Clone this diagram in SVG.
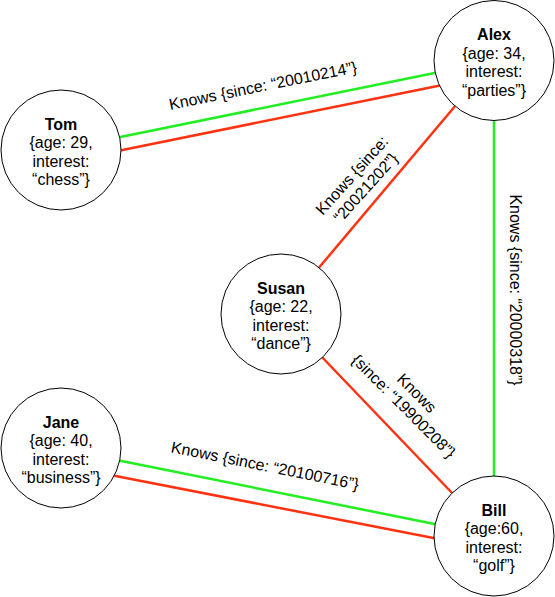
<svg xmlns="http://www.w3.org/2000/svg" width="555" height="597" viewBox="0 0 555 597">
<style>
.bg{fill:#fff}
.node circle{fill:#fff;stroke:#000;stroke-width:1}
.node text{font-family:"Liberation Sans",Arial,Helvetica,sans-serif;font-size:16px;text-anchor:middle;fill:#000}
.node .name{font-weight:bold}
.g{stroke:#22ee22;stroke-width:2.5;fill:none}
.r{stroke:#ff3311;stroke-width:2.5;fill:none}
.lbl{font-family:"Liberation Sans",Arial,Helvetica,sans-serif;font-size:16px;text-anchor:middle;fill:#000}
</style>
<rect class="bg" x="0" y="0" width="555" height="597"/>
<g id="connectors">
<line class="g" x1="118" y1="137.5" x2="437" y2="72.5"/>
<line class="r" x1="120" y1="150.5" x2="440" y2="85.5"/>
<line class="r" x1="456" y1="105" x2="317" y2="270"/>
<line class="g" x1="494" y1="119" x2="494" y2="477"/>
<line class="r" x1="320" y1="355" x2="454" y2="495"/>
<line class="g" x1="119" y1="460.5" x2="437" y2="524.5"/>
<line class="r" x1="113" y1="475.5" x2="436" y2="538.5"/>
<text class="lbl" transform="translate(264,91) rotate(-11.4)">Knows {since: “20010214”}</text>
<g transform="translate(356,179) rotate(-48)">
<text class="lbl" x="0" y="0">Knows {since:</text>
<text class="lbl" x="0" y="18.5">“20021202”}</text>
</g>
<text class="lbl" transform="translate(510,290) rotate(90)">Knows {since: “20000318”}</text>
<g transform="translate(413,397) rotate(45)">
<text class="lbl" x="0" y="0">Knows</text>
<text class="lbl" x="0" y="18.5">{since: “19900208”}</text>
</g>
<text class="lbl" transform="translate(264,471) rotate(11.3)">Knows {since: “20100716”}</text>
</g>
<g id="tom" class="node">
<circle cx="61" cy="150" r="60"/>
<text class="name" x="61" y="129.5">Tom</text>
<text x="61" y="148">{age: 29,</text>
<text x="61" y="166.5">interest:</text>
<text x="61" y="185">“chess”}</text>
</g>
<g id="alex" class="node">
<circle cx="494" cy="60.5" r="60"/>
<text class="name" x="494" y="40">Alex</text>
<text x="494" y="58.5">{age: 34,</text>
<text x="494" y="77">interest:</text>
<text x="494" y="95.5">“parties”}</text>
</g>
<g id="susan" class="node">
<circle cx="281" cy="314" r="60"/>
<text class="name" x="281" y="293.5">Susan</text>
<text x="281" y="312">{age: 22,</text>
<text x="281" y="330.5">interest:</text>
<text x="281" y="349">“dance”}</text>
</g>
<g id="jane" class="node">
<circle cx="61" cy="448" r="60"/>
<text class="name" x="61" y="427.5">Jane</text>
<text x="61" y="446">{age: 40,</text>
<text x="61" y="464.5">interest:</text>
<text x="61" y="483">“business”}</text>
</g>
<g id="bill" class="node">
<circle cx="494" cy="536" r="60"/>
<text class="name" x="494" y="515.5">Bill</text>
<text x="494" y="534">{age:60,</text>
<text x="494" y="552.5">interest:</text>
<text x="494" y="571">“golf”}</text>
</g>
</svg>
